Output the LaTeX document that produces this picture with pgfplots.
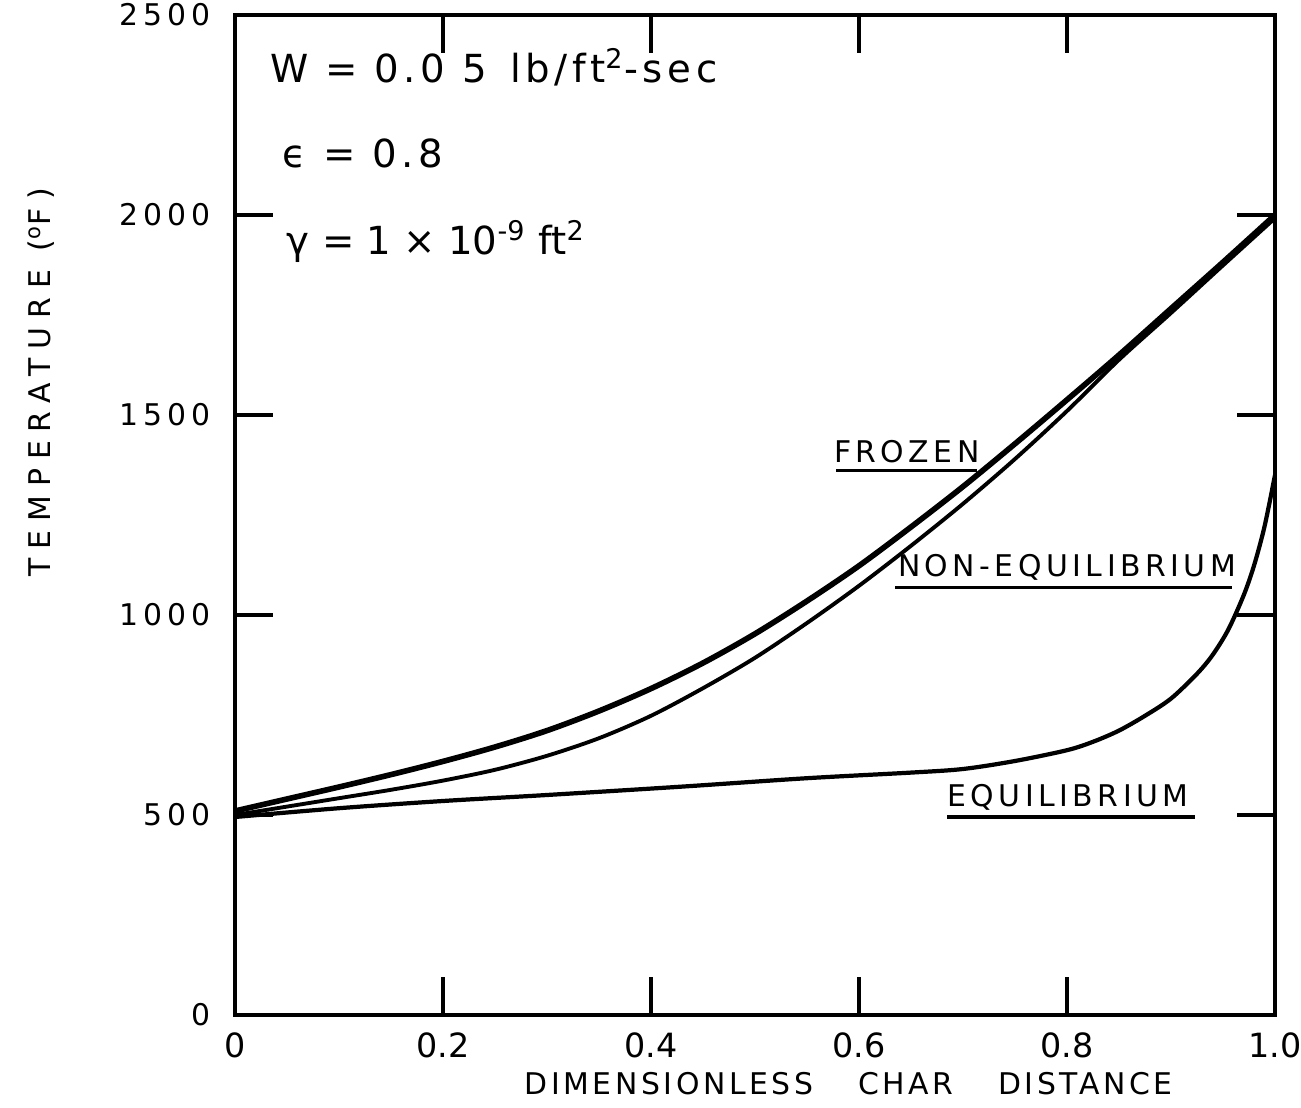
\documentclass[border=0pt]{standalone}
\usepackage{fontspec}
\setmainfont{DejaVu Sans}
\newfontfamily\spaced[LetterSpace=30]{DejaVu Sans}
\newfontfamily\lbl[LetterSpace=15]{DejaVu Sans}
\newfontfamily\wide[LetterSpace=12]{DejaVu Sans}
\usepackage{pgfplots}
\pgfplotsset{compat=1.18}

\begin{document}
\begin{tikzpicture}
\useasboundingbox (-2.35,-0.93) rectangle (10.66,10.15);
\begin{axis}[
  scale only axis,
  width=10.4cm,height=10cm,
  xmin=0,xmax=1,ymin=0,ymax=2500,
  axis line style={line width=1.3pt},
  tick align=inside,
  major tick length=0.38cm,
  tick style={line width=1.3pt,black},
  xtick={0,0.2,0.4,0.6,0.8,1},
  xticklabels={0,0.2,0.4,0.6,0.8,1.0},
  ytick={0,500,1000,1500,2000,2500},
  yticklabels={0,5\,0\,0,1\,0\,0\,0,1\,5\,0\,0,2\,0\,0\,0,2\,5\,0\,0},
  xticklabel style={font=\fontsize{9.5}{10}\selectfont,yshift=-0.05cm},
  yticklabel style={font=\spaced\fontsize{8.5}{10}\selectfont,xshift=-0.12cm},
  xlabel={DIMENSIONLESS\hspace{1.5em}CHAR\hspace{1.5em}DISTANCE},
  xlabel style={font=\wide\fontsize{8.5}{10}\selectfont,at={(axis description cs:0.59,0)},anchor=north,yshift=-0.45cm},
  ylabel={TEMPERATURE (\textsuperscript{o}F)},
  ylabel style={font=\spaced\fontsize{8.5}{10}\selectfont,at={(axis description cs:-0.186,0.633)},anchor=center},
]
% frozen
\addplot[black,line width=1.6pt,smooth] coordinates {
(0,510) (0.05,540) (0.1,570) (0.15,601) (0.2,634) (0.25,670) (0.3,711)
(0.35,760) (0.4,816) (0.45,880) (0.5,953) (0.55,1035) (0.6,1123)
(0.65,1220) (0.7,1321) (0.75,1428) (0.8,1538) (0.85,1650) (0.9,1766)
(0.95,1882) (1.0,2000)};
% non-equilibrium
\addplot[black,line width=1.1pt,smooth] coordinates {
(0,500) (0.05,521) (0.1,542) (0.15,563) (0.2,586) (0.25,613) (0.3,648)
(0.35,692) (0.4,748) (0.45,817) (0.5,893) (0.55,980) (0.6,1073)
(0.65,1173) (0.7,1278) (0.75,1390) (0.8,1510) (0.85,1638) (0.9,1755)
(0.95,1874) (1.0,1992)};
% equilibrium
\addplot[black,line width=1.2pt,smooth] coordinates {
(0,495) (0.1,517) (0.2,535) (0.3,550) (0.43,571) (0.55,592) (0.65,606)
(0.7,615) (0.75,635) (0.8,662) (0.825,683) (0.85,711) (0.875,748) (0.9,791)
(0.925,853) (0.94,900) (0.955,963) (0.97,1050) (0.98,1125) (0.99,1222) (1.0,1350)};

\node[anchor=west,font=\wide\fontsize{11}{13}\selectfont] at (axis cs:0.022,2370) {W = 0.0 5 \,lb/ft\textsuperscript{2}-sec};
\node[anchor=west,font=\wide\fontsize{11}{13}\selectfont] at (axis cs:0.034,2155) {ϵ = 0.8};
\node[anchor=west,font=\fontsize{11}{13}\selectfont] at (axis cs:0.038,1935) {γ = 1 × 10\textsuperscript{-9} ft\textsuperscript{2}};

\node[font=\lbl\fontsize{8.5}{10}\selectfont] at (axis cs:0.646,1408) {FROZEN};
\draw[line width=0.9pt] (axis cs:0.578,1362) -- (axis cs:0.713,1362);
\node[font=\lbl\fontsize{8.5}{10}\selectfont] at (axis cs:0.80,1120) {NON-EQUILIBRIUM};
\draw[line width=0.9pt] (axis cs:0.635,1068) -- (axis cs:0.959,1068);
\node[font=\lbl\fontsize{8.5}{10}\selectfont] at (axis cs:0.801,545) {EQUILIBRIUM};
\draw[line width=0.9pt] (axis cs:0.685,495) -- (axis cs:0.923,495);
\end{axis}
\end{tikzpicture}
\end{document}
